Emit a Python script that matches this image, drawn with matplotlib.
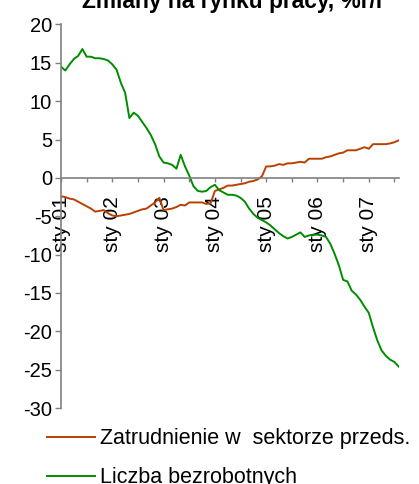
import numpy as np
import matplotlib
matplotlib.use("Agg")
import matplotlib.pyplot as plt

plt.rcParams.update({
    "font.family": ["Liberation Sans", "DejaVu Sans"],
    "font.size": 14,
})

TITLE = "Zmiany na rynku pracy, %r/r"

# monthly, sty 2001 .. sie 2007
zatrudnienie = [
    -2.4, -2.5, -2.7, -2.8, -3.1, -3.4, -3.7, -4.0, -4.4, -4.3,
    -4.2, -4.6, -4.9, -5.0, -4.9, -4.8, -4.7, -4.5, -4.3, -4.1,
    -4.0, -3.6, -3.2, -2.6, -4.2, -4.1, -4.0, -3.8, -3.5, -3.6,
    -3.2, -3.2, -3.2, -3.2, -3.4, -3.3, -1.7, -1.5, -1.3, -1.0,
    -1.0, -0.9, -0.8, -0.7, -0.5, -0.4, -0.2, 0.2, 1.5, 1.5,
    1.6, 1.8, 1.7, 1.9, 1.9, 2.0, 2.1, 2.0, 2.5, 2.5,
    2.5, 2.5, 2.7, 2.8, 3.0, 3.2, 3.3, 3.6, 3.6, 3.6,
    3.8, 4.0, 3.8, 4.4, 4.4, 4.4, 4.4, 4.5, 4.65, 4.9,
]
bezrobotni = [
    14.5, 14.0, 14.8, 15.5, 15.9, 16.8, 15.8, 15.8, 15.6, 15.6,
    15.5, 15.3, 14.8, 14.1, 12.4, 11.1, 7.8, 8.5, 8.1, 7.3,
    6.5, 5.6, 4.4, 2.8, 2.0, 1.9, 1.7, 1.2, 3.0, 1.5,
    0.3, -1.1, -1.7, -1.8, -1.7, -1.2, -0.9, -1.6, -1.9, -2.2,
    -2.2, -2.3, -2.6, -3.1, -4.0, -4.7, -5.2, -5.5, -5.8, -6.2,
    -6.7, -7.2, -7.6, -7.9, -7.7, -7.4, -7.1, -7.7, -7.5, -7.4,
    -7.4, -7.5, -7.7, -8.6, -9.9, -11.4, -13.3, -13.5, -14.7, -15.2,
    -15.9, -16.8, -17.6, -19.5, -21.2, -22.5, -23.2, -23.7, -24.0, -24.6,
]
labels = ["Zatrudnienie w  sektorze przeds.", "Liczba bezrobotnych"]
year_labels = ["sty 01", "sty 02", "sty 03", "sty 04", "sty 05", "sty 06", "sty 07"]
y_ticks = [20, 15, 10, 5, 0, -5, -10, -15, -20, -25, -30]

months = np.arange(len(zatrudnienie))

fig = plt.figure(figsize=(4.19, 4.84), dpi=100)
ax = fig.add_axes([0.1456, 0.157, 0.806, 0.7924])

l1, = ax.plot(months, zatrudnienie, color="#B84000", lw=1.4)
l2, = ax.plot(months, bezrobotni, color="#008C00", lw=1.4)

ax.set_xlim(0, len(months) - 1)
ax.set_ylim(-30, 20)
ax.set_yticks(y_ticks)
ax.set_yticklabels([str(v) for v in y_ticks])

# ticks every half year, labels on January only
xt = np.arange(0, len(months), 6)
ax.set_xticks(xt)
xl = []
for t in xt:
    xl.append(year_labels[t // 12] if t % 12 == 0 else "")
ax.set_xticklabels(xl)

for s in ["top", "right"]:
    ax.spines[s].set_visible(False)
ax.spines["bottom"].set_position(("data", 0))
ax.spines["bottom"].set_color("#808080")
ax.spines["left"].set_color("#808080")
ax.spines["bottom"].set_linewidth(1.2)
ax.spines["left"].set_linewidth(1.2)
ax.tick_params(axis="y", direction="out", length=4.5, width=1, color="#808080", pad=2, labelsize=14.5)
ax.tick_params(axis="x", direction="out", length=3, width=1, color="#808080", pad=10,
               labelsize=15, labelrotation=90)

fig.text(0.556, 1 - 8 / 484, TITLE, ha="center", va="baseline",
         fontsize=16.4, fontweight="bold")

fig.legend([l1, l2], labels, loc="upper left", bbox_to_anchor=(0.112, 0.115),
           frameon=False, fontsize=15.5, handlelength=2.25, handletextpad=0.2,
           labelspacing=0.83, borderpad=0, borderaxespad=0)

fig.savefig("out.png", dpi=100)
